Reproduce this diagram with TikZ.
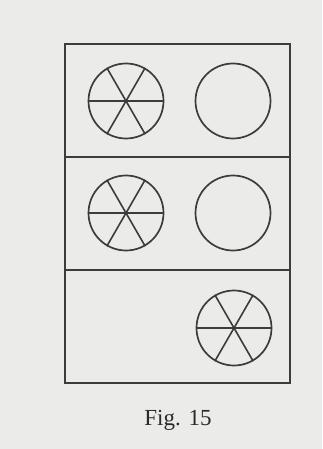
\documentclass[tikz,border=0pt]{standalone}
\usepackage{fontspec}
\setmainfont{Liberation Serif}
\definecolor{figpaper}{HTML}{EBEBEA}
\definecolor{figink}{HTML}{3C3C3C}
\definecolor{figtext}{HTML}{2A2A2A}
\tikzset{
  fig box/.style={
    rectangle, draw=figink, line width=0.9pt,
    minimum width=112.5pt, minimum height=56.5pt,
    inner sep=0pt
  },
  fig wheel/.style={
    circle, draw=figink, line width=0.85pt,
    minimum size=37.5pt, inner sep=0pt
  },
  fig spoke/.style={draw=figink, line width=0.8pt},
  fig caption/.style={text=figtext, font=\fontsize{11.5}{14}\selectfont}
}
\begin{document}
\begin{tikzpicture}[x=0.5pt,y=-0.5pt]
  \fill[figpaper] (0,0) rectangle (322,449);
  \useasboundingbox (0,0) rectangle (322,449);

  % three stacked panels
  \node[fig box] (top) at (177.5,100.5) {};
  \node[fig box] (mid) at (177.5,213.5) {};
  \node[fig box] (low) at (177.5,326.5) {};

  \node[fig wheel] (topspoked) at (126,101) {};
  \node[fig wheel] (topplain) at (233,101) {};
  \node[fig wheel] (midspoked) at (126,213) {};
  \node[fig wheel] (midplain) at (233,213) {};
  \node[fig wheel] (lowspoked) at (234,328) {};

  % six spokes in every wheel that has them
  \foreach \w in {topspoked,midspoked,lowspoked} {
    \draw[fig spoke] (\w.180) -- (\w.0);
    \draw[fig spoke] (\w.240) -- (\w.60);
    \draw[fig spoke] (\w.300) -- (\w.120);
  }

  \node[fig caption] (caption) at (178,420) {Fig. 15};
\end{tikzpicture}
\end{document}
